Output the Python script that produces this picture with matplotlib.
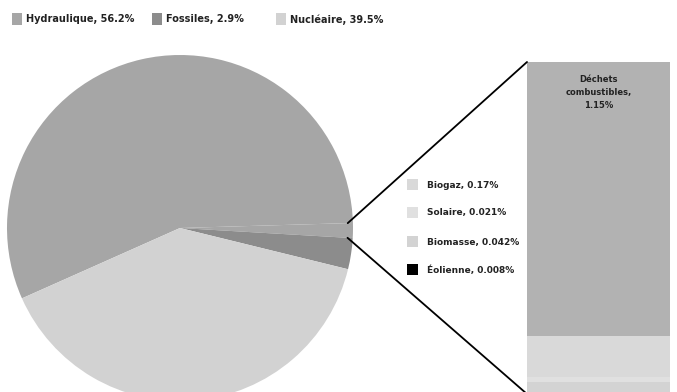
import numpy as np
import matplotlib
matplotlib.use('Agg')
import matplotlib.pyplot as plt
from matplotlib.patches import ConnectionPatch, Rectangle

# Parts de la production (%)
pie_labels = ['Hydraulique', 'Autres', 'Fossiles', 'Nucléaire']
pie_values = [56.2, 1.391, 2.9, 39.5]
pie_colors = ['#a6a6a6', '#a6a6a6', '#8c8c8c', '#d2d2d2']

legend_labels = ['Hydraulique, 56.2%', 'Fossiles, 2.9%', 'Nucléaire, 39.5%']
legend_colors = ['#a6a6a6', '#8c8c8c', '#d2d2d2']

# Détail des "autres" (%), de haut en bas
other_labels = ['Déchets\ncombustibles,\n1.15%', 'Biogaz, 0.17%', 'Solaire, 0.021%',
                'Biomasse, 0.042%', 'Éolienne, 0.008%']
other_values = [1.15, 0.17, 0.021, 0.042, 0.008]
other_colors = ['#b2b2b2', '#d9d9d9', '#e0e0e0', '#d3d3d3', '#000000']

W, H = 677, 392
fig = plt.figure(figsize=(W / 100, H / 100), dpi=100)
fig.patch.set_facecolor('white')

# camembert
ax = fig.add_axes([7 / W, (H - 401) / H, 346 / W, 346 / H])
wedges, _ = ax.pie(pie_values, colors=pie_colors, startangle=204, counterclock=False,
                   radius=1, wedgeprops=dict(linewidth=0, antialiased=True))
ax.set_xlim(-1, 1)
ax.set_ylim(-1, 1)
ax.set_aspect('equal')
ax.axis('off')

# barre de détail
bx = fig.add_axes([527 / W, (H - 394) / H, 143 / W, 332 / H])
bottom = 0
for v, c in zip(other_values[::-1], other_colors[::-1]):
    bx.bar(0, v, bottom=bottom, width=1, color=c, linewidth=0, align='edge')
    bottom += v
bx.set_xlim(0, 1)
bx.set_ylim(0, sum(other_values))
bx.axis('off')
bx.text(0.5, sum(other_values) - 0.055, other_labels[0], ha='center', va='top',
        fontsize=6, fontweight='bold', color='#222222', linespacing=1.55)

# lignes de liaison
w = wedges[1]
r = 0.97
for th, yb in [(w.theta2, sum(other_values)), (w.theta1, 0)]:
    p = (r * np.cos(np.radians(th)), r * np.sin(np.radians(th)))
    con = ConnectionPatch(xyA=p, coordsA=ax.transData, xyB=(0, yb), coordsB=bx.transData,
                          color='black', linewidth=1.3)
    fig.add_artist(con)

# légende du haut
for i, (lab, c) in enumerate(zip(legend_labels, legend_colors)):
    x0 = [12, 152, 276][i]
    fig.add_artist(Rectangle((x0 / W, (H - 25) / H), 10 / W, 12 / H, transform=fig.transFigure,
                             facecolor=c, edgecolor='none'))
    fig.text((x0 + 14) / W, (H - 19.5) / H, lab, ha='left', va='center',
             fontsize=7, fontweight='bold', color='#222222')

# légende des autres
for i, (lab, c) in enumerate(zip(other_labels[1:], other_colors[1:])):
    yc = [185, 213, 242, 270][i]
    fig.add_artist(Rectangle((407 / W, (H - yc - 5) / H), 11 / W, 11 / H, transform=fig.transFigure,
                             facecolor=c, edgecolor='none'))
    fig.text(427 / W, (H - yc) / H, lab, ha='left', va='center',
             fontsize=6.5, fontweight='bold', color='#222222')

fig.savefig('out.png', dpi=100)
